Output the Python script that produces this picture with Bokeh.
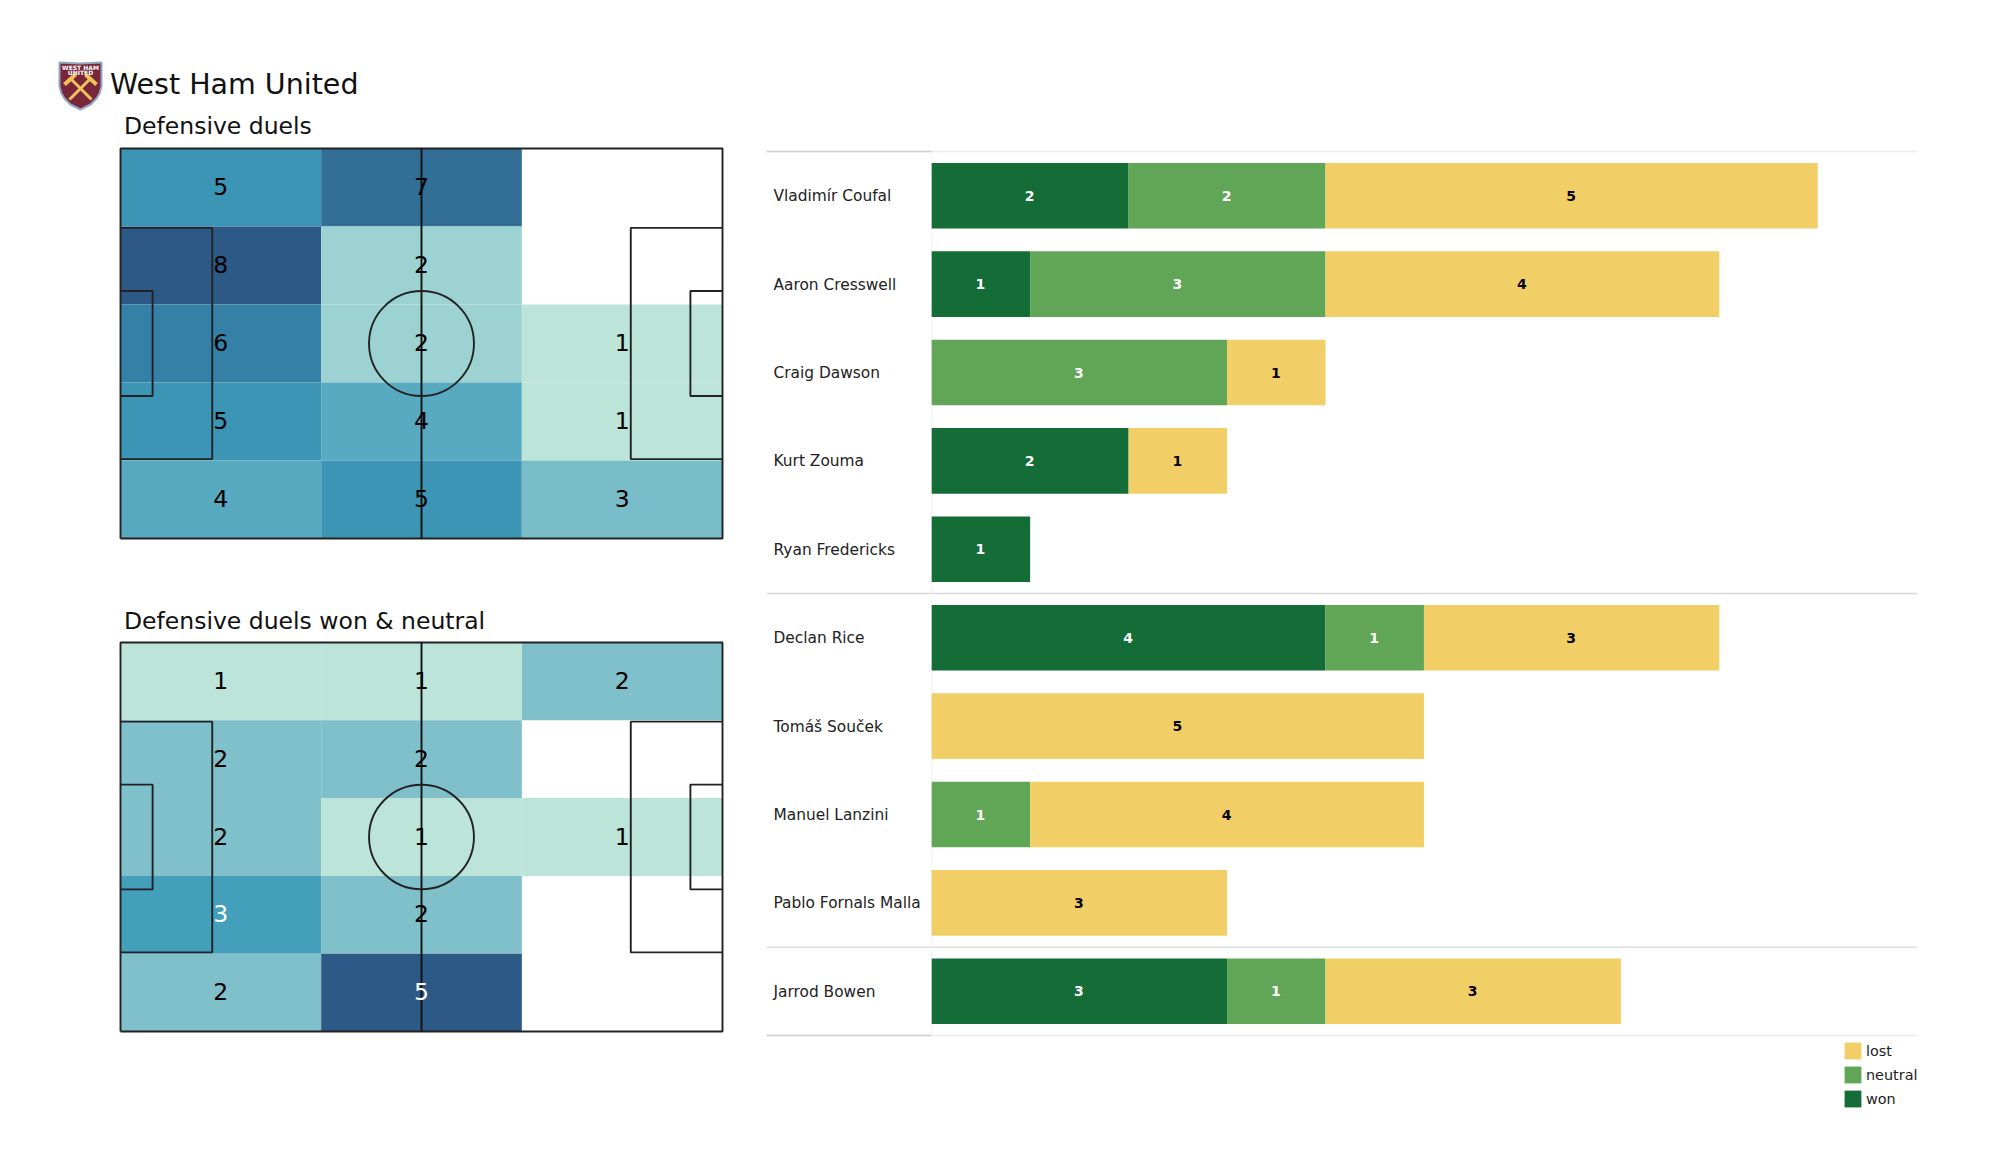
from bokeh.plotting import figure
from bokeh.layouts import row, column
from bokeh.models import Range1d, ColumnDataSource, Legend, LegendItem
from bokeh.core.properties import value
from bokeh.embed import file_html
from bokeh.resources import INLINE

FONT = "DejaVu Sans"

team = "West Ham United"
title_a = "Defensive duels"
title_b = "Defensive duels won & neutral"

# heat grids: top row first, columns left to right
grid_a = [[5, 7, 0], [8, 2, 0], [6, 2, 1], [5, 4, 1], [4, 5, 3]]
grid_b = [[1, 1, 2], [2, 2, 0], [2, 1, 1], [3, 2, 0], [2, 5, 0]]
colors_a = {1: "#BCE4D9", 2: "#9CD2D1", 3: "#79BDC9", 4: "#58AAC1", 5: "#3C95B5",
            6: "#3480A6", 7: "#326E96", 8: "#2C5985"}
colors_b = {1: "#BCE4D9", 2: "#80C0CB", 3: "#449FBB", 5: "#2C5985"}
white_b = {3, 5}

players = ["Vladimír Coufal", "Aaron Cresswell", "Craig Dawson", "Kurt Zouma", "Ryan Fredericks",
           "Declan Rice", "Tomáš Souček", "Manuel Lanzini", "Pablo Fornals Malla", "Jarrod Bowen"]
won = [2, 1, 0, 2, 1, 4, 0, 0, 0, 3]
neutral = [2, 3, 3, 0, 0, 1, 0, 1, 0, 1]
lost = [5, 4, 1, 1, 0, 3, 5, 4, 3, 3]
separators = [-0.5, 4.5, 8.5, 9.5]

C_WON, C_NEU, C_LOST = "#146C37", "#61A556", "#F2CF66"
LINE = "#222222"
PITCH_L, PITCH_W = 105.0, 68.0
LEFT_W = 760
HEAD_H = 140


def pitch(title, grid, colors, white, fig_top, fig_bottom, pitch_top, pitch_bottom, title_y):
    sx = 602 / PITCH_L
    sy = (pitch_bottom - pitch_top) / PITCH_W
    p = figure(width=LEFT_W, height=fig_bottom - fig_top,
               x_range=Range1d(-120 / sx, (LEFT_W - 120) / sx),
               y_range=Range1d((pitch_bottom - fig_bottom) / sy, (pitch_bottom - fig_top) / sy),
               output_backend="svg", toolbar_location=None, min_border=0,
               outline_line_color=None, background_fill_color="white")
    p.xaxis.visible = False
    p.yaxis.visible = False
    p.grid.visible = False
    if title:
        p.text(x=[3.5 / sx], y=[(pitch_bottom - title_y) / sy], text=[title], text_color="#111111",
               text_font=value(FONT), text_font_size="23.5px", text_align="left", text_baseline="middle")

    left, right, bottom, top, txt, tc, tx, ty = [], [], [], [], [], [], [], []
    fills = []
    cw, ch = PITCH_L / 3, PITCH_W / 5
    for r, rowv in enumerate(grid):
        for c, v in enumerate(rowv):
            if v == 0:
                continue
            left.append(c * cw)
            right.append((c + 1) * cw)
            top.append(PITCH_W - r * ch)
            bottom.append(PITCH_W - (r + 1) * ch)
            fills.append(colors[v])
            txt.append(str(v))
            tc.append("white" if v in white else "black")
            tx.append((c + 0.5) * cw)
            ty.append(PITCH_W - (r + 0.5) * ch)
    p.quad(left=left, right=right, top=top, bottom=bottom, fill_color=fills, line_color=None)

    w = 1.9
    L, W = PITCH_L, PITCH_W
    p.line([0, L, L, 0, 0], [0, 0, W, W, 0], line_color=LINE, line_width=w)
    p.line([L / 2, L / 2], [0, W], line_color="#111111", line_width=w)
    for a, b in [(16.0, 40.32), (5.6, 18.32)]:
        y0, y1 = (W - b) / 2, (W + b) / 2
        p.line([0, a, a, 0], [y0, y0, y1, y1], line_color=LINE, line_width=w)
        p.line([L, L - a, L - a, L], [y0, y0, y1, y1], line_color=LINE, line_width=w)
    p.ellipse(x=L / 2, y=W / 2, width=18.3, height=18.3, fill_color=None,
              line_color=LINE, line_width=w)
    p.text(x=tx, y=ty, text=txt, text_color=tc, text_font=value(FONT), text_font_size="23.5px",
           text_align="center", text_baseline="middle", y_offset=-1)
    return p


# header with crest, team name and first panel title
head = figure(width=LEFT_W, height=HEAD_H, x_range=Range1d(0, LEFT_W), y_range=Range1d(HEAD_H, 0),
              output_backend="svg", toolbar_location=None, min_border=0,
              outline_line_color=None)
head.xaxis.visible = False
head.yaxis.visible = False
head.grid.visible = False
sx_ = [59, 80, 101, 101, 99, 96, 90, 80, 70, 64, 61, 59]
sy_ = [62, 63, 62, 86, 93, 98, 104, 109, 104, 98, 93, 86]
head.patch(sx_, sy_, fill_color="#7A263A", line_color="#8FA6C4", line_width=2)
head.segment(x0=[69, 91], y0=[99, 99], x1=[90, 70], y1=[78, 78], line_color="#EFC25C", line_width=3)
head.segment(x0=[64, 85], y0=[84, 74], x1=[75, 96], y1=[74, 84], line_color="#EFC25C", line_width=4)
head.text(x=[80, 80], y=[67, 72], text=["WEST HAM", "UNITED"], text_color="white",
          text_font=value(FONT), text_font_size="6px", text_font_style="bold",
          text_align="center", text_baseline="middle")
head.text(x=[109.5], y=[84], text=[team], text_color="#111111", text_font=value(FONT),
          text_font_size="28.5px", text_align="left", text_baseline="middle")
head.text(x=[123.5], y=[125], text=[title_a], text_color="#111111", text_font=value(FONT),
          text_font_size="23.5px", text_align="left", text_baseline="middle")

p1 = pitch(None, grid_a, colors_a, set(), HEAD_H, 590, 148, 538, 125)
p2 = pitch(title_b, grid_b, colors_b, white_b, 590, 1060, 642, 1031, 620)

# stacked bars
unit = 98.45
step = 88.4
x0_px = 931.2
frame_l, frame_r = 766, 1917
frame_t, frame_b = 148, 1125
y0_px = 195.2
bars = figure(width=frame_r + 8 - LEFT_W, height=frame_b,
              x_range=Range1d((frame_l - x0_px) / unit, (frame_r - x0_px) / unit),
              y_range=Range1d((frame_b - y0_px) / step, (frame_t - y0_px) / step),
              output_backend="svg", toolbar_location=None,
              min_border_left=frame_l - LEFT_W, min_border_right=8, min_border_top=frame_t, min_border_bottom=0,
              outline_line_color=None)
bars.xaxis.visible = False
bars.yaxis.visible = False
bars.grid.visible = False

ys = list(range(len(players)))
src = ColumnDataSource(dict(y=ys, won=won, neutral=neutral, lost=lost, name=players))
xmin = (frame_l - x0_px) / unit
xmax = (frame_r - x0_px) / unit
bars.segment(x0=[xmin] * 2, x1=[xmax] * 2, y0=[separators[0], separators[3]], y1=[separators[0], separators[3]],
             line_color="#EBEBEB", line_width=1.3)
bars.segment(x0=[xmin] * 2, x1=[xmax] * 2, y0=separators[1:3], y1=separators[1:3],
             line_color="#D8D8D8", line_width=1.3)
bars.segment(x0=[xmin, xmin], x1=[0, 0], y0=[separators[0], separators[-1]], y1=[separators[0], separators[-1]],
             line_color="#CFCFCF", line_width=1.3)
bars.segment(x0=[0], x1=[0], y0=[separators[0]], y1=[separators[-1]], line_color="#F2F2F2", line_width=1)

r = bars.hbar_stack(["won", "neutral", "lost"], y="y", height=0.742, source=src,
                    color=[C_WON, C_NEU, C_LOST], line_color=None)

bars.text(x=[xmin + 7 / unit] * len(players), y=ys, text=players, text_color="#222222",
          text_font=value(FONT), text_font_size="15.4px", text_align="left", text_baseline="middle", y_offset=0.5)

tx, ty, tt, tc = [], [], [], []
for i in ys:
    a, b, c = won[i], neutral[i], lost[i]
    for start, v, col in [(0, a, "white"), (a, b, "white"), (a + b, c, "black")]:
        if v:
            tx.append(start + v / 2)
            ty.append(i)
            tt.append(str(v))
            tc.append(col)
bars.text(x=tx, y=ty, text=tt, text_color=tc, text_font=value(FONT), text_font_size="14px",
          text_font_style="bold", text_align="center", text_baseline="middle", x_offset=-0.5)

legend = Legend(items=[LegendItem(label="lost", renderers=[r[2]]),
                       LegendItem(label="neutral", renderers=[r[1]]),
                       LegendItem(label="won", renderers=[r[0]])],
                location=(1076, 16), orientation="vertical", border_line_color=None,
                background_fill_alpha=0, glyph_width=21, glyph_height=21,
                label_text_font=FONT, label_text_font_size="14.4px", label_text_color="#222222",
                label_standoff=3, spacing=3, padding=0, margin=0, label_height=21)
bars.add_layout(legend)

page = row(column(head, p1, p2, spacing=0), bars, spacing=0)
open("out.html", "w").write(file_html(page, INLINE))
